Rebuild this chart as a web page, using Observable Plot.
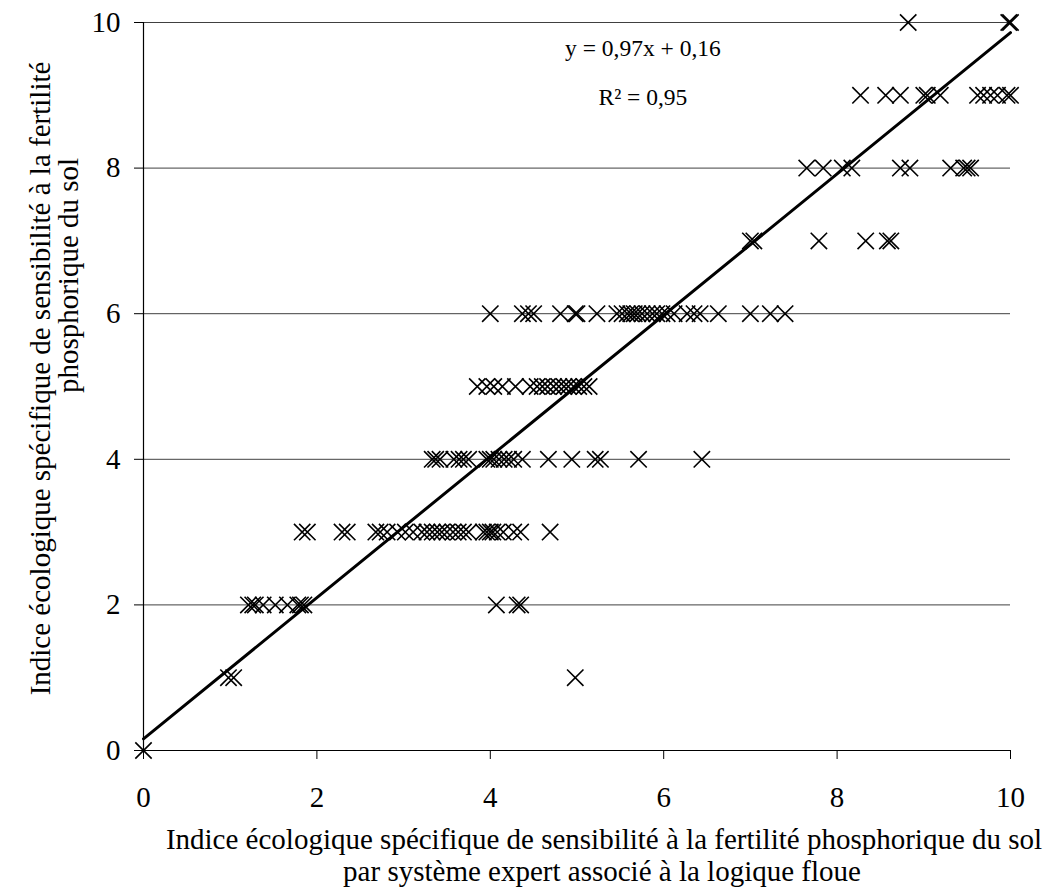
<!DOCTYPE html>
<html>
<head>
<meta charset="utf-8">
<script src="https://cdn.jsdelivr.net/npm/d3@7"></script>
<script src="https://cdn.jsdelivr.net/npm/@observablehq/plot@0.6"></script>
<style>
  html, body { margin: 0; padding: 0; background: #fff; }
  svg { display: block; }
</style>
</head>
<body>
<div id="chart"></div>
<script>
// x values (fuzzy-logic expert system index) for each observed y value (ecological index)
const yLevels = [0, 1, 2, 3, 4, 5, 6, 7, 8, 9, 10];
const row0 = [0];
const row1 = [0.98, 1.04, 4.98];
const row2 = [1.21, 1.26, 1.29, 1.38, 1.52, 1.66, 1.78, 1.81, 1.85, 4.07, 4.31, 4.35];
const row3 = [1.83, 1.89, 2.29, 2.35, 2.68, 2.73, 2.81, 2.93, 3.02, 3.11, 3.21, 3.27, 3.33, 3.39, 3.44, 3.50, 3.57, 3.63, 3.69, 3.75, 3.92, 3.96, 4.0, 4.03, 4.08, 4.15, 4.27, 4.35, 4.69];
const row4 = [3.33, 3.37, 3.42, 3.58, 3.64, 3.69, 3.75, 3.96, 4.0, 4.04, 4.10, 4.16, 4.21, 4.27, 4.37, 4.67, 4.94, 5.21, 5.27, 5.71, 6.44];
const row5 = [3.85, 3.96, 4.04, 4.14, 4.29, 4.46, 4.54, 4.60, 4.66, 4.73, 4.79, 4.85, 4.90, 4.96, 5.02, 5.08, 5.14];
const row6 = [4.0, 4.37, 4.44, 4.50, 4.81, 4.98, 5.0, 5.23, 5.46, 5.52, 5.58, 5.62, 5.66, 5.70, 5.75, 5.81, 5.87, 5.92, 5.98, 6.04, 6.12, 6.27, 6.35, 6.42, 6.63, 7.0, 7.23, 7.40];
const row7 = [7.0, 7.04, 7.79, 8.33, 8.58, 8.62];
const row8 = [7.65, 7.84, 8.06, 8.17, 8.73, 8.84, 9.31, 9.46, 9.50, 9.54];
const row9 = [8.27, 8.56, 8.73, 9.0, 9.04, 9.19, 9.62, 9.69, 9.77, 9.85, 9.96, 10.0];
const row10 = [8.82, 9.98, 10.0];
const rows = [row0, row1, row2, row3, row4, row5, row6, row7, row8, row9, row10];

// regression
const slope = 0.97;
const intercept = 0.16;
const fitX = [0, 10];
const equationText = "y = 0,97x + 0,16";
const r2Text = "R² = 0,95";

// axes
const xTicks = [0, 2, 4, 6, 8, 10];
const yTicks = [0, 2, 4, 6, 8, 10];
const gridTicks = [2, 4, 6, 8, 10];
const xTitle1 = "Indice écologique spécifique de sensibilité à la fertilité phosphorique du sol";
const xTitle2 = "par système expert associé à la logique floue";
const yTitle1 = "Indice écologique spécifique de sensibilité à la fertilité";
const yTitle2 = "phosphorique du sol";

const points = rows.flatMap((xs, i) => xs.map(x => ({x, y: yLevels[i]})));
const fit = fitX.map(x => ({x, y: slope * x + intercept}));

const font = "'Liberation Serif', 'Times New Roman', serif";

const chart = Plot.plot({
  width: 1053,
  height: 896,
  marginLeft: 143,
  marginRight: 43,
  marginTop: 22,
  marginBottom: 146,
  style: {fontFamily: font, fontSize: "29px", color: "#000", background: "#fff"},
  x: {domain: [0, 10]},
  y: {domain: [0, 10]},
  marks: [
    Plot.gridY(gridTicks, {stroke: "#000", strokeOpacity: 0.75, strokeWidth: 1}),
    Plot.ruleX([0], {stroke: "#000", strokeWidth: 1.2}),
    Plot.ruleY([0], {stroke: "#000", strokeWidth: 1.2}),
    Plot.axisX(xTicks, {tickSize: 9, tickPadding: 27, label: null, fontSize: 29, tickFormat: d => d, stroke: "#000"}),
    Plot.axisY(yTicks, {tickSize: 9, tickPadding: 14, label: null, fontSize: 29, tickFormat: d => d, stroke: "#000"}),
    Plot.dot(points, {x: "x", y: "y", symbol: "times", r: 7.5, stroke: "#000", strokeWidth: 1.6}),
    Plot.line(fit, {x: "x", y: "y", stroke: "#000", strokeWidth: 3}),
    Plot.text([equationText], {x: 5.76, y: 9.64, text: d => d, fontSize: 23.5, fill: "#000"}),
    Plot.text([r2Text], {x: 5.76, y: 8.97, text: d => d, fontSize: 23.5, fill: "#000"}),
    Plot.text([xTitle1], {frameAnchor: "bottom", text: d => d, textAnchor: "middle", dx: 27, dy: 78, lineAnchor: "top", fontSize: 29, fill: "#000"}),
    Plot.text([xTitle2], {frameAnchor: "bottom", text: d => d, textAnchor: "middle", dx: 25, dy: 110, lineAnchor: "top", fontSize: 29, fill: "#000"}),
    Plot.text([yTitle1], {frameAnchor: "left", text: d => d, textAnchor: "middle", rotate: -90, dx: -103, dy: -8, fontSize: 29, fill: "#000"}),
    Plot.text([yTitle2], {frameAnchor: "left", text: d => d, textAnchor: "middle", rotate: -90, dx: -75, dy: -111, fontSize: 29, fill: "#000"})
  ]
});
document.getElementById("chart").appendChild(chart);
</script>
</body>
</html>
